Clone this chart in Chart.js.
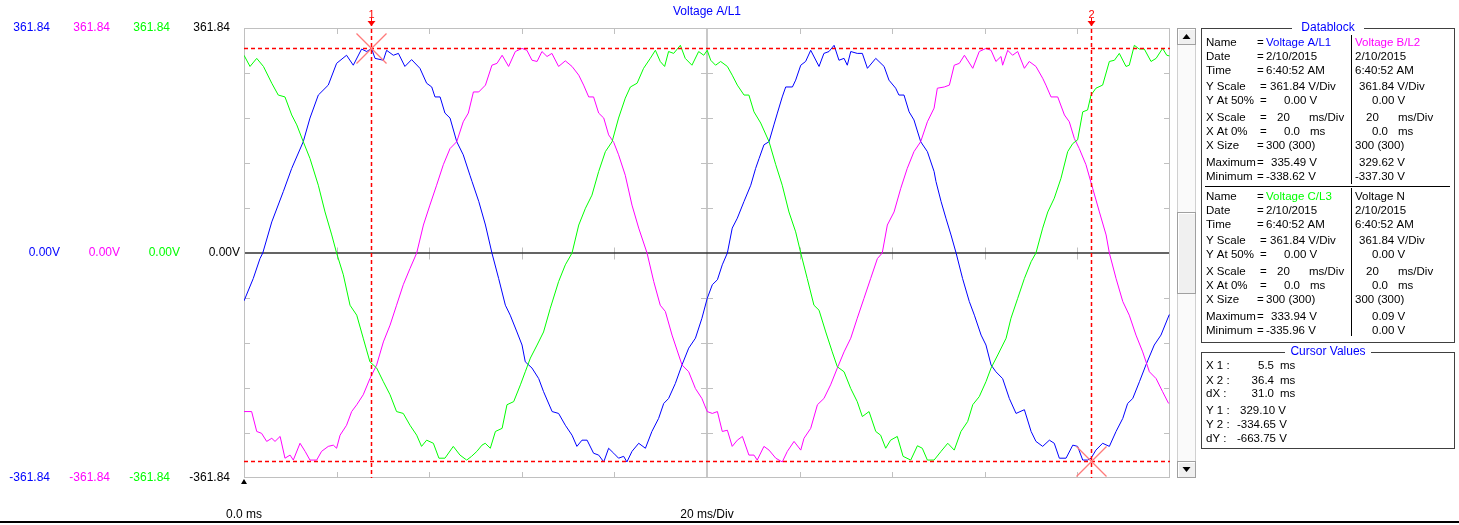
<!DOCTYPE html>
<html><head><meta charset="utf-8">
<script src="https://cdn.jsdelivr.net/npm/chart.js@4/dist/chart.umd.min.js"></script>
<style>html,body{margin:0;padding:0;background:#fff;overflow:hidden}#wrap{position:relative;width:1459px;height:525px}</style>
</head><body><div id="wrap"><canvas id="c" width="1459" height="525"></canvas></div>
<script>
// ---- series (time in ms, value in V) ----
const blueT = [0,0.40,0.69,0.81,1.20,1.70,2.06,2.56,2.85,3.21,3.64,4.00,4.43,4.72,5.08,5.30,5.51,5.66,6.02,6.16,6.45,6.67,6.95,7.24,7.60,7.89,8.11,8.25,8.47,8.68,8.90,9.19,9.47,9.76,9.85,10.14,10.43,10.71,11.00,11.29,11.50,11.79,12.01,12.15,12.44,12.73,12.94,13.31,13.59,13.88,14.17,14.38,14.60,14.82,15.10,15.32,15.54,15.75,15.97,16.18,16.40,16.54,16.76,17.05,17.34,17.62,17.91,18.13,18.34,18.63,18.92,19.21,19.50,19.78,20.01,20.23,20.45,20.66,20.88,21.09,21.31,21.60,21.89,22.10,22.25,22.46,22.68,22.89,23.04,23.25,23.40,23.69,23.83,24.05,24.26,24.48,24.84,25.05,25.27,25.49,25.70,25.92,26.06,26.21,26.49,26.71,26.93,27.29,27.65,27.86,28.15,28.29,28.51,28.73,28.94,29.23,29.52,29.81,29.89,30.11,30.32,30.54,30.76,31.04,31.33,31.55,31.84,32.05,32.27,32.48,32.77,33.06,33.35,33.71,34.00,34.21,34.50,34.79,35.00,35.22,35.51,35.80,36.01,36.23,36.44,36.59,36.80,37.09,37.38,37.67,37.96,38.17,38.39,38.68,38.96,39.32,39.61,39.97];
const blueV = [-77,-41,-9,0,50,99,136,179,217,254,270,305,318,302,328,324,329,313,310,326,318,321,300,311,297,273,267,251,251,225,217,179,158,125,115,83,45,0,-41,-84,-100,-127,-148,-175,-185,-202,-223,-255,-258,-277,-293,-311,-301,-301,-322,-325,-336,-314,-322,-330,-327,-336,-319,-306,-314,-287,-266,-242,-234,-210,-180,-153,-137,-105,-73,-51,-43,-19,0,40,56,83,109,136,152,174,179,206,225,251,267,267,278,302,308,326,300,321,324,334,310,313,302,324,321,321,297,313,300,278,265,254,254,227,214,179,163,131,115,83,56,29,0,-41,-78,-100,-132,-148,-180,-191,-202,-234,-258,-252,-287,-303,-311,-301,-306,-330,-330,-309,-311,-333,-333,-330,-317,-306,-311,-287,-266,-242,-234,-207,-180,-148,-132,-99];

const magentaT = [0,0.33,0.55,0.76,0.98,1.20,1.34,1.56,1.77,1.99,2.13,2.42,2.64,2.85,3.14,3.35,3.64,3.86,4.00,4.15,4.43,4.65,4.87,5.15,5.44,5.73,6.02,6.31,6.59,6.88,7.17,7.46,7.75,8.03,8.32,8.61,8.90,9.19,9.47,9.69,9.91,10.14,10.43,10.71,10.93,11.15,11.43,11.72,12.01,12.22,12.44,12.66,12.87,13.09,13.30,13.59,13.88,14.17,14.46,14.67,14.89,15.10,15.32,15.54,15.75,15.97,16.18,16.47,16.76,17.05,17.41,17.70,17.98,18.20,18.49,18.92,19.21,19.50,19.78,20.01,20.23,20.45,20.66,20.88,21.09,21.31,21.53,21.81,22.03,22.17,22.46,22.68,22.97,23.25,23.47,23.76,24.05,24.19,24.48,24.77,25.05,25.34,25.63,25.92,26.21,26.49,26.78,27.07,27.36,27.57,27.79,28.08,28.37,28.65,28.94,29.23,29.52,29.81,29.95,30.25,30.47,30.68,30.90,31.12,31.48,31.76,32.05,32.27,32.48,32.70,32.77,32.99,33.20,33.42,33.71,33.92,34.21,34.50,34.64,34.86,35.15,35.44,35.65,35.87,36.08,36.37,36.66,36.95,37.24,37.38,37.67,37.96,38.24,38.53,38.82,39.11,39.40,39.68,39.94];
const magentaV = [-255,-255,-287,-290,-303,-298,-303,-295,-330,-325,-333,-306,-319,-333,-333,-319,-311,-309,-314,-293,-277,-255,-244,-228,-202,-180,-143,-116,-84,-51,-25,0,45,77,109,142,168,179,211,225,259,259,270,302,305,318,300,324,329,326,310,308,324,316,321,300,309,300,286,270,251,251,225,217,190,178,158,125,77,40,0,-46,-84,-94,-132,-180,-191,-218,-234,-255,-258,-255,-287,-285,-311,-301,-295,-325,-325,-333,-311,-317,-330,-336,-319,-303,-317,-298,-282,-244,-234,-212,-185,-159,-137,-105,-73,-41,-9,0,45,66,104,136,163,179,211,233,265,267,270,302,305,318,297,324,329,326,308,316,302,326,318,324,297,308,300,281,270,251,251,222,211,184,168,142,104,66,29,0,-41,-78,-100,-132,-159,-191,-202,-223,-242];

const greenT = [0,0.26,0.55,0.84,1.20,1.48,1.77,2.06,2.28,2.56,2.85,3.21,3.50,3.79,4.00,4.29,4.58,4.87,5.15,5.44,5.73,6.02,6.31,6.59,6.88,7.17,7.46,7.67,7.89,8.18,8.42,8.68,9.04,9.33,9.62,9.83,10.06,10.28,10.42,10.64,10.86,11.15,11.36,11.65,11.94,12.15,12.37,12.66,12.94,13.23,13.59,13.88,14.17,14.46,14.75,15.03,15.32,15.61,15.90,16.18,16.47,16.69,16.98,17.26,17.55,17.77,17.98,18.17,18.34,18.56,18.85,19.06,19.35,19.64,19.86,20.01,20.16,20.37,20.59,20.88,21.09,21.31,21.60,21.81,22.03,22.32,22.68,22.97,23.25,23.54,23.83,24.05,24.33,24.62,24.84,25.13,25.41,25.63,25.92,26.21,26.49,26.71,27.00,27.29,27.50,27.72,27.93,28.22,28.47,28.80,29.09,29.30,29.52,29.81,30.11,30.40,30.68,30.97,31.26,31.48,31.76,32.05,32.27,32.56,32.92,33.13,33.42,33.71,34.00,34.21,34.50,34.72,35.00,35.29,35.58,35.80,36.01,36.23,36.44,36.59,36.80,37.09,37.38,37.60,37.81,38.10,38.24,38.46,38.67,38.89,39.18,39.40,39.68,39.86,39.97];
const greenV = [318,300,313,300,273,254,251,222,206,179,152,109,66,29,0,-35,-84,-100,-137,-175,-185,-207,-228,-255,-258,-277,-293,-311,-301,-306,-330,-330,-311,-325,-333,-327,-319,-309,-306,-314,-287,-282,-244,-239,-212,-191,-169,-148,-127,-89,-46,-19,0,45,72,93,131,163,179,217,249,267,273,297,313,326,308,300,324,321,334,313,302,324,318,326,310,302,308,300,286,270,254,254,227,209,179,142,109,66,34,0,-41,-84,-92,-127,-159,-183,-191,-218,-239,-263,-255,-287,-293,-314,-301,-295,-327,-333,-310,-314,-333,-333,-319,-306,-317,-287,-271,-244,-231,-207,-185,-164,-137,-105,-73,-41,-14,0,40,66,88,120,163,176,182,227,230,254,265,270,308,310,321,300,302,334,328,328,308,313,329,318,317];

// ---- axis / division values ----
const xDivTicks = [0,4,8,12,16,20,24,28,32,36,40];           // ms
const yDivTicks = [-361.84,-289.47,-217.10,-144.74,-72.37,0,72.37,144.74,217.10,289.47,361.84]; // V
const yTopLabel = '361.84', yZeroLabel = '0.00V', yBottomLabel = '-361.84';
const xStartLabel = '0.0 ms', xScaleLabel = '20 ms/Div';
const chartTitle = 'Voltage A/L1';
const seriesNames = ['Voltage A/L1','Voltage B/L2','Voltage C/L3','Voltage N'];
const seriesColors = ['#0000ff','#ff00ff','#00ff00','#000000'];

// cursors
const cursorT = [5.5, 36.6];
const cursorV = [329.10, -334.65];
const cursorNames = ['1','2'];

// datablock texts
const dbLabels = ['Name','Date','Time','Y Scale','Y At 50%','X Scale','X At 0%','X Size','Maximum','Minimum'];
const dbBlock1Left  = ['Voltage A/L1','2/10/2015','6:40:52 AM','361.84 V/Div','0.00 V',['20','ms/Div'],['0.0','ms'],'300 (300)','335.49 V','-338.62 V'];
const dbBlock1Right = ['Voltage B/L2','2/10/2015','6:40:52 AM','361.84 V/Div','0.00 V',['20','ms/Div'],['0.0','ms'],'300 (300)','329.62 V','-337.30 V'];
const dbBlock2Left  = ['Voltage C/L3','2/10/2015','6:40:52 AM','361.84 V/Div','0.00 V',['20','ms/Div'],['0.0','ms'],'300 (300)','333.94 V','-335.96 V'];
const dbBlock2Right = ['Voltage N','2/10/2015','6:40:52 AM','361.84 V/Div','0.00 V',['20','ms/Div'],['0.0','ms'],'300 (300)','0.09 V','0.00 V'];
const cvLabels = ['X 1 :','X 2 :','dX :','Y 1 :','Y 2 :','dY :'];
const cvValues = ['5.5','36.4','31.0','329.10 V','-334.65 V','-663.75 V'];

// ---- chart ----
const FONT = '"Liberation Sans", Arial, sans-serif';
function ln(ctx,x1,y1,x2,y2){ctx.beginPath();ctx.moveTo(x1,y1);ctx.lineTo(x2,y2);ctx.stroke();}
function txt(ctx,s,x,y,color,align,size){ctx.fillStyle=color||'#000';ctx.textAlign=align||'left';ctx.textBaseline='middle';ctx.font=(size||12)+'px '+FONT;ctx.fillText(s,x,y);}

const scopePlugin = {
  id:'scope',
  beforeDatasetsDraw(chart){
    const {ctx, chartArea:a, scales:{x,y}} = chart;
    ctx.save();
    const xc = Math.round(x.getPixelForValue(xDivTicks[5]));
    ctx.strokeStyle='#c8c8c8'; ctx.lineWidth=2;
    ln(ctx,xc,a.top,xc,a.bottom);
    ctx.lineWidth=1; ctx.strokeStyle='#c0c0c0';
    ctx.strokeRect(a.left+0.5,a.top+0.5,a.right-a.left-1,a.bottom-a.top-1);
    const y0 = Math.round(y.getPixelForValue(0))+0.5;
    xDivTicks.forEach((t,k)=>{ if(k===0||k===xDivTicks.length-1||k===5) return;
      const px=Math.round(x.getPixelForValue(t))+0.5;
      ln(ctx,px,a.top,px,a.top+6); ln(ctx,px,a.bottom-6,px,a.bottom); ln(ctx,px,y0-6,px,y0+6);});
    yDivTicks.forEach((v,k)=>{ if(k===0||k===yDivTicks.length-1||k===5) return;
      const py=Math.round(y.getPixelForValue(v))+0.5;
      ln(ctx,a.left,py,a.left+6,py); ln(ctx,a.right-6,py,a.right,py); ln(ctx,xc-6,py,xc+6,py);});
    ctx.strokeStyle='#303030'; ctx.lineWidth=1.5;
    ln(ctx,a.left+1,y0-0.5,a.right-1,y0-0.5);
    ctx.restore();
  },
  afterDatasetsDraw(chart){
    const {ctx, chartArea:a, scales:{x,y}} = chart;
    ctx.save();
    cursorT.forEach((t,i)=>{
      const px=Math.round(x.getPixelForValue(t))+0.5;
      const py=Math.round(y.getPixelForValue(cursorV[i]))+0.5;
      ctx.strokeStyle='#ff0000'; ctx.lineWidth=1.5; ctx.setLineDash([4,3]);
      ln(ctx,px,a.top-6,px,a.bottom);
      ln(ctx,a.left,py,a.right,py);
      ctx.setLineDash([]); ctx.lineWidth=1;
      ln(ctx,px,18,px,a.top-6);
      ctx.fillStyle='#ff0000'; ctx.beginPath();
      ctx.moveTo(px-4,21); ctx.lineTo(px+4,21); ctx.lineTo(px,26); ctx.closePath(); ctx.fill();
      txt(ctx,cursorNames[i],px,15,'#ff0000','center',11);
      ctx.strokeStyle='#ff7a7a'; ctx.lineWidth=1.2;
      ln(ctx,px-15,py-15,px+15,py+15); ln(ctx,px-15,py+15,px+15,py-15);
    });
    ctx.restore();
  },
  afterDraw(chart){
    const {ctx, chartArea:a, scales:{x,y}} = chart;
    ctx.save();
    const yt=y.getPixelForValue(yDivTicks[10]), yz=y.getPixelForValue(0), yb=y.getPixelForValue(yDivTicks[0]);
    const lx=[50,110,170,230];
    for(let i=0;i<4;i++){
      txt(ctx,yTopLabel,lx[i],yt,seriesColors[i],'right');
      txt(ctx,yZeroLabel,lx[i]+10,yz,seriesColors[i],'right');
      txt(ctx,yBottomLabel,lx[i],yb,seriesColors[i],'right');
    }
    // small start marker
    ctx.fillStyle='#000'; ctx.beginPath();
    ctx.moveTo(a.left-3,a.bottom+6); ctx.lineTo(a.left+3,a.bottom+6); ctx.lineTo(a.left,a.bottom+1); ctx.closePath(); ctx.fill();
    txt(ctx,chartTitle,x.getPixelForValue(20),12,seriesColors[0],'center');
    txt(ctx,xStartLabel,x.getPixelForValue(0),515,'#000','center');
    txt(ctx,xScaleLabel,x.getPixelForValue(20),515,'#000','center');
    ctx.fillStyle='#000'; ctx.fillRect(0,521,1459,2);

    // scrollbar
    const sx=1177, sw=19;
    ctx.fillStyle='#fafafa'; ctx.fillRect(sx,a.top,sw,a.bottom-a.top);
    ctx.strokeStyle='#d0d0d0'; ctx.lineWidth=1;
    ln(ctx,sx+0.5,a.top,sx+0.5,a.bottom); ln(ctx,sx+sw-0.5,a.top,sx+sw-0.5,a.bottom);
    function btn(y0,h){ctx.fillStyle='#f0f0f0';ctx.fillRect(sx,y0,sw,h);
      ctx.strokeStyle='#ffffff';ln(ctx,sx+1.5,y0+1,sx+1.5,y0+h-1);ln(ctx,sx+1,y0+1.5,sx+sw-1,y0+1.5);
      ctx.strokeStyle='#a0a0a0';ctx.strokeRect(sx+0.5,y0+0.5,sw-1,h-1);}
    btn(a.top,17); btn(a.bottom-17,17); btn(212,82);
    ctx.fillStyle='#000';
    ctx.beginPath(); ctx.moveTo(sx+5.5,a.top+11); ctx.lineTo(sx+13.5,a.top+11); ctx.lineTo(sx+9.5,a.top+6); ctx.closePath(); ctx.fill();
    ctx.beginPath(); ctx.moveTo(sx+5.5,a.bottom-11); ctx.lineTo(sx+13.5,a.bottom-11); ctx.lineTo(sx+9.5,a.bottom-6); ctx.closePath(); ctx.fill();

    // Datablock panel
    const bx=1201, bw=253;
    ctx.strokeStyle='#404040'; ctx.lineWidth=1;
    ctx.strokeRect(bx+0.5,28.5,bw,314);
    ctx.fillStyle='#fff'; ctx.fillRect(1292,22,72,12);
    txt(ctx,'Datablock',1328,28,'#0000ff','center',12);
    ctx.strokeStyle='#000';
    ln(ctx,1351.5,35,1351.5,184); ln(ctx,1351.5,188,1351.5,336);
    ln(ctx,1205,186.5,1450,186.5);
    const rowY=[43,57,71,87,101,118,132,146,163,177];
    const blocks=[[dbBlock1Left,dbBlock1Right,0,0,1],[dbBlock2Left,dbBlock2Right,153.5,2,3]];
    const eqX=[1257,1257,1257,1260,1260,1260,1260,1257,1257,1257];
    const vX=[1266,1266,1266,1270,1284,1277,1284,1266,1271,1266];
    const rX=[1355,1355,1355,1359,1372,1366,1372,1355,1359,1355];
    const S=11.5;
    blocks.forEach(([L,R,off,ci,cj])=>{
      dbLabels.forEach((lab,r)=>{
        const yy=rowY[r]+off;
        txt(ctx,lab,1206,yy,'#000','left',S);
        txt(ctx,'=',eqX[r],yy,'#000','left',S);
        let lv=L[r], rv=R[r];
        let rxx=rX[r];
        if(r===8||r===9){ if(rv.length<=6) rxx=1372; }
        if(Array.isArray(lv)){ txt(ctx,lv[0],vX[r],yy,'#000','left',S); txt(ctx,lv[1],r===5?1309:1310,yy,'#000','left',S);}
        else txt(ctx,lv,vX[r],yy,r===0?seriesColors[ci]:'#000','left',S);
        if(Array.isArray(rv)){ txt(ctx,rv[0],rxx,yy,'#000','left',S); txt(ctx,rv[1],1398,yy,'#000','left',S);}
        else txt(ctx,rv,rxx,yy,r===0?seriesColors[cj]:'#000','left',S);
      });
    });

    // Cursor values panel
    ctx.strokeStyle='#404040';
    ctx.strokeRect(bx+0.5,352.5,bw,96);
    ctx.fillStyle='#fff'; ctx.fillRect(1285,346,86,12);
    txt(ctx,'Cursor Values',1328,352,'#0000ff','center',12);
    const cvY=[366,381,394,411,425,439];
    cvLabels.forEach((l,i)=>{
      txt(ctx,l,1206,cvY[i],'#000','left',S);
      if(i<3){ txt(ctx,cvValues[i],1274,cvY[i],'#000','right',S); txt(ctx,'ms',1280,cvY[i],'#000','left',S); }
      else txt(ctx,cvValues[i],i===3?1240:1237,cvY[i],'#000','left',S);
    });
    ctx.restore();
  }
};

function series(T,V){ return T.map((t,i)=>({x:t,y:V[i]})); }

new Chart(document.getElementById('c'),{
  type:'line',
  data:{datasets:[
    {label:seriesNames[2],data:series(greenT,greenV),borderColor:seriesColors[2]},
    {label:seriesNames[1],data:series(magentaT,magentaV),borderColor:seriesColors[1]},
    {label:seriesNames[0],data:series(blueT,blueV),borderColor:seriesColors[0]}
  ]},
  options:{
    responsive:false, animation:false, devicePixelRatio:1,
    layout:{padding:{left:244,right:289,top:28,bottom:47}},
    elements:{point:{radius:0},line:{borderWidth:1,tension:0}},
    scales:{
      x:{type:'linear',min:xDivTicks[0],max:xDivTicks[xDivTicks.length-1],display:false},
      y:{type:'linear',min:yDivTicks[0],max:yDivTicks[yDivTicks.length-1],display:false}
    },
    plugins:{legend:{display:false},tooltip:{enabled:false}}
  },
  plugins:[scopePlugin]
});
</script></body></html>
